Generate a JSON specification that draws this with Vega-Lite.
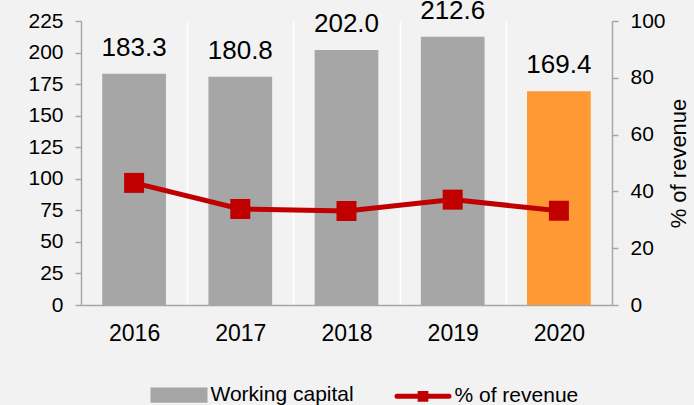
{
  "$schema": "https://vega.github.io/schema/vega-lite/v6.json",
  "width": 531,
  "height": 284,
  "autosize": {"type": "none"},
  "padding": {"left": 81, "top": 21, "right": 82, "bottom": 100},
  "background": "#f2f2f2",
  "data": {
    "values": [
      {"year": "2016", "wc": 183.3, "pct": 43.0, "s1": "Working capital", "s2": "% of revenue"},
      {"year": "2017", "wc": 180.8, "pct": 33.8, "s1": "Working capital", "s2": "% of revenue"},
      {"year": "2018", "wc": 202.0, "pct": 33.1, "s1": "Working capital", "s2": "% of revenue"},
      {"year": "2019", "wc": 212.6, "pct": 37.1, "s1": "Working capital", "s2": "% of revenue"},
      {"year": "2020", "wc": 169.4, "pct": 33.2, "s1": "Working capital", "s2": "% of revenue"}
    ]
  },
  "encoding": {
    "x": {
      "field": "year",
      "type": "nominal",
      "scale": {"paddingInner": 0, "paddingOuter": 0},
      "axis": {
        "title": null,
        "labelAngle": 0,
        "labelFontSize": 23,
        "labelPadding": 17,
        "ticks": false,
        "domainColor": "#a6a6a6",
        "domainWidth": 1.5,
        "grid": true,
        "gridColor": "#ffffff",
        "gridWidth": 1.5,
        "tickBand": "extent"
      }
    }
  },
  "layer": [
    {
      "encoding": {
        "y": {
          "field": "wc",
          "type": "quantitative",
          "scale": {"domain": [0, 225], "nice": false},
          "axis": {
            "title": null,
            "values": [0, 25, 50, 75, 100, 125, 150, 175, 200, 225],
            "labelOverlap": false,
            "labelFontSize": 21,
            "labelPadding": 12,
            "tickSize": 6,
            "tickColor": "#a6a6a6",
            "tickWidth": 1.5,
            "domainColor": "#a6a6a6",
            "domainWidth": 1.5,
            "grid": false
          }
        }
      },
      "layer": [
        {
          "mark": {"type": "bar", "width": {"band": 0.6}},
          "encoding": {
            "color": {
              "condition": {"test": "datum.year === '2020'", "value": "#ff9933"},
              "field": "s1",
              "type": "nominal",
              "scale": {"domain": ["Working capital", "% of revenue"], "range": ["#a6a6a6", "#c00000"]},
              "legend": {
                "orient": "none",
                "legendX": 69.5,
                "legendY": 345.5,
                "direction": "horizontal",
                "title": null,
                "padding": 0,
                "labelFontSize": 21,
                "labelColor": "#000000",
                "symbolSize": 2704,
                "symbolStrokeWidth": 5,
                "labelOffset": 3,
                "columnPadding": 32,
                "encode": {
                  "symbols": {
                    "update": {
                      "shape": {"signal": "datum.value === 'Working capital' ? 'M-1,-0.2H1V0.2H-1Z' : 'M-1,0H1M-0.11,-0.11H0.11V0.11H-0.11Z'"},
                      "fill": {"signal": "datum.value === 'Working capital' ? '#a6a6a6' : '#c00000'"},
                      "stroke": {"signal": "datum.value === 'Working capital' ? 'transparent' : '#c00000'"},
                      "strokeWidth": {"value": 5},
                      "strokeCap": {"value": "round"},
                      "size": {"value": 2704},
                      "opacity": {"value": 1}
                    }
                  }
                }
              }
            }
          }
        },
        {
          "mark": {"type": "text", "dy": -18, "baseline": "alphabetic", "fontSize": 26, "color": "#000000"},
          "encoding": {
            "text": {"field": "wc", "type": "quantitative", "format": ".1f"}
          }
        }
      ]
    },
    {
      "mark": {"type": "line", "strokeWidth": 5, "point": {"shape": "square", "size": 400, "filled": true, "opacity": 1}},
      "encoding": {
        "y": {
          "field": "pct",
          "type": "quantitative",
          "scale": {"domain": [0, 100], "nice": false},
          "axis": {
            "orient": "right",
            "title": "% of revenue",
            "titleFontSize": 22,
            "titleFontWeight": "normal",
            "titleAngle": 270,
            "titlePadding": 25,
            "values": [0, 20, 40, 60, 80, 100],
            "labelOverlap": false,
            "labelFontSize": 21,
            "labelPadding": 12,
            "tickSize": 6,
            "tickColor": "#a6a6a6",
            "tickWidth": 1.5,
            "domainColor": "#a6a6a6",
            "domainWidth": 1.5,
            "grid": false
          }
        },
        "color": {"field": "s2", "type": "nominal"}
      }
    }
  ],
  "resolve": {"scale": {"y": "independent"}},
  "config": {
    "view": {"stroke": null},
    "font": "Liberation Sans",
    "axis": {"labelColor": "#000000", "titleColor": "#000000", "labelFont": "Liberation Sans", "titleFont": "Liberation Sans"},
    "legend": {"labelFont": "Liberation Sans"}
  }
}
